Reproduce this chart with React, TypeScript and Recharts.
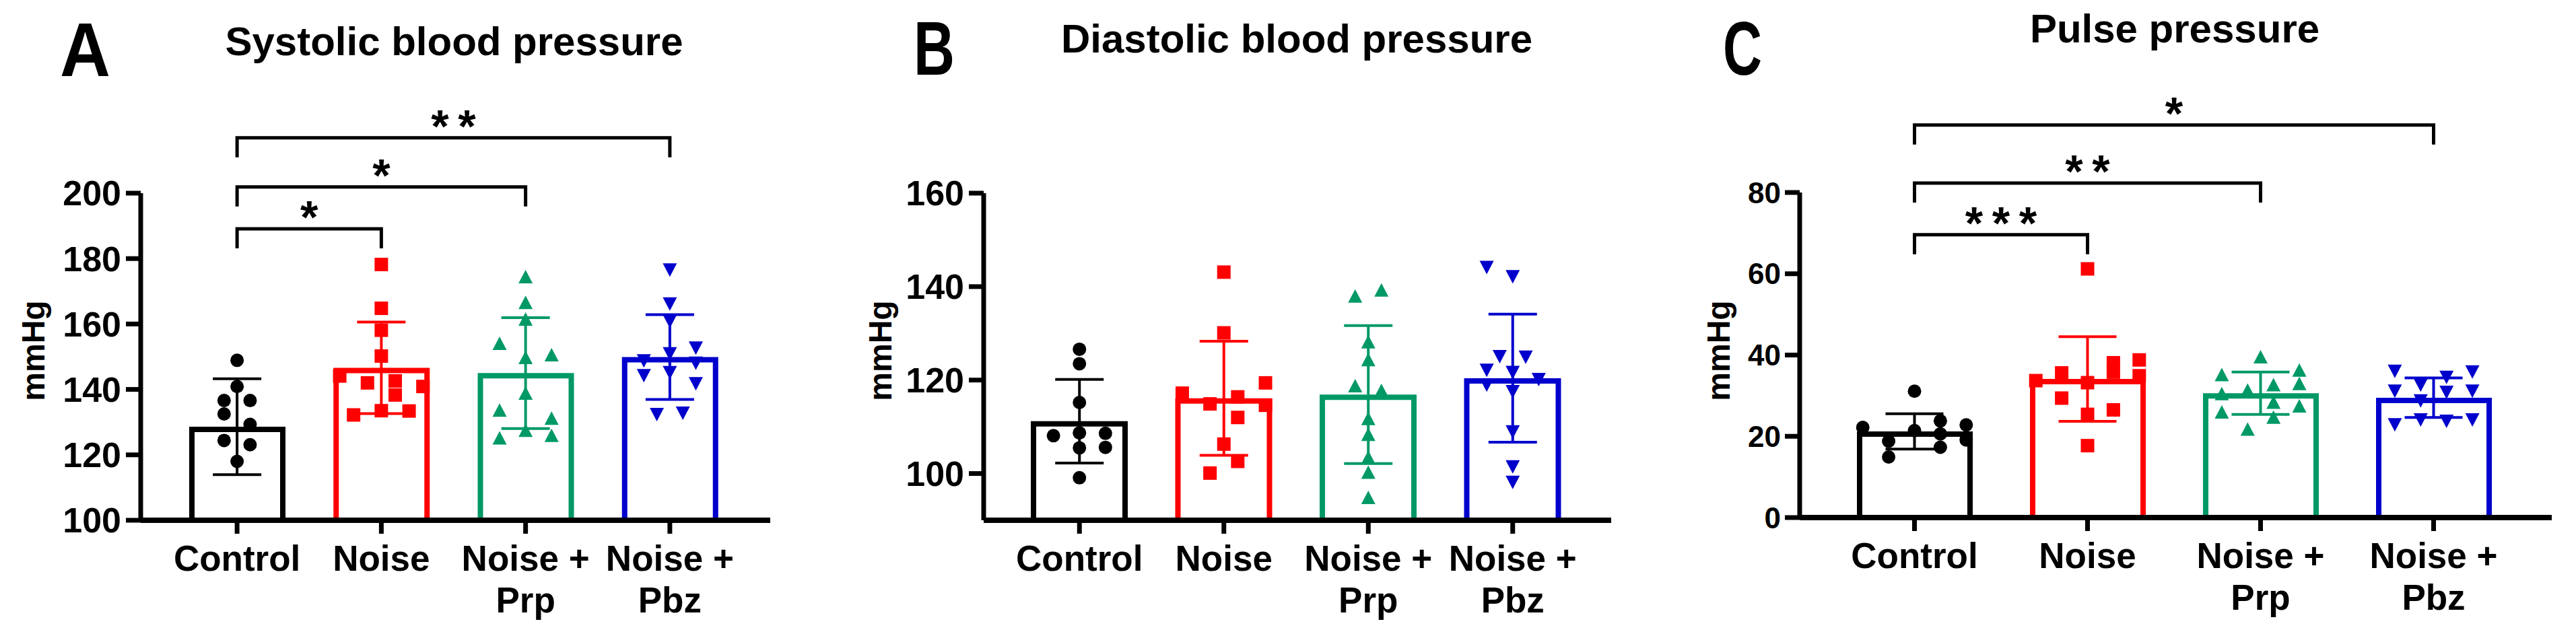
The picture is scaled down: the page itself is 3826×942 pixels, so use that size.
import React from "react";
import {
  ComposedChart,
  Bar,
  Scatter,
  XAxis,
  YAxis,
  ErrorBar,
  ReferenceLine,
} from "recharts";

const FONT = "'Liberation Sans', Arial, sans-serif";

const categories = ["Control", "Noise", "Noise + Prp", "Noise + Pbz"];
const colors = ["#000000", "#ff0000", "#009966", "#0000cc"];

// A - systolic
const sbpControl = [148.9, 140.9, 136.6, 136.6, 132.5, 129.3, 124.4, 123.1, 118.0];
const sbpControlLane = [0, 0, -1, 1, -1, 1, -1, 1, 0];
const sbpNoise = [178.2, 164.8, 158.1, 150.2, 144.1, 142.0, 142.6, 138.3, 140.9, 132.2, 133.5, 133.4];
const sbpNoiseLane = [0, 0, 0, 0, -3, -1, 1, 1, 3, -2, 0, 2];
const sbpPrp = [174.5, 166.6, 161.5, 154.1, 150.6, 149.8, 138.9, 133.7, 131.2, 127.5, 125.2, 126.0];
const sbpPrpLane = [0, 0, 0, -2, 2, 0, 0, -2, 2, 0, -2, 2];
const sbpPbz = [176.5, 166.1, 160.8, 152.6, 150.9, 148.7, 148.0, 144.2, 145.1, 141.7, 132.3, 132.7];
const sbpPbzLane = [0, 0, 0, 2, 0, -2, 2, -2, 0, 2, -1, 1];
const sbpMean = [128.6, 146.6, 145.0, 149.9];
const sbpSd = [14.65, 14.0, 16.95, 12.95];
const sbpTicks = [100, 120, 140, 160, 180, 200];

// B - diastolic
const dbpControl = [126.6, 123.5, 115.2, 108.1, 108.7, 108.6, 105.5, 105.6, 99.1];
const dbpControlLane = [0, 0, 0, -2, 0, 2, 0, 2, 0];
const dbpNoise = [143.1, 130.1, 119.4, 117.2, 116.4, 114.9, 114.6, 112.0, 106.3, 102.6, 100.1];
const dbpNoiseLane = [0, 0, 3, -3, 1, -1, 3, 1, 0, 1, -1];
const dbpPrp = [139.3, 138.0, 128.2, 124.4, 118.8, 117.8, 111.8, 108.4, 103.5, 100.3, 94.9];
const dbpPrpLane = [1, -1, 0, 0, -1, 1, 0, 0, 0, 0, 0];
const dbpPbz = [144.1, 142.1, 125.0, 124.9, 122.1, 121.6, 120.1, 118.9, 117.5, 108.9, 101.4, 98.1];
const dbpPbzLane = [-2, 0, -1, 1, -2, 0, 2, -2, 0, 0, 0, 0];
const dbpMean = [111.2, 116.1, 116.9, 120.4];
const dbpSd = [8.95, 12.2, 14.75, 13.7];
const dbpTicks = [100, 120, 140, 160];

// C - pulse pressure
const ppControl = [31.1, 22.2, 22.8, 23.8, 21.4, 20.6, 18.8, 19.1, 17.3, 14.9];
const ppControlLane = [0, -4, 4, 2, 0, 2, -2, 4, 2, -2];
const ppNoise = [61.2, 38.8, 38.1, 35.8, 34.9, 35.6, 33.7, 33.2, 29.4, 26.5, 25.4, 17.7];
const ppNoiseLane = [0, 4, 2, 2, 4, -2, -4, 0, -2, 2, 0, 0];
const ppPrp = [39.6, 35.2, 36.3, 32.7, 33.0, 31.4, 30.5, 28.4, 27.5, 26.0, 24.7, 21.8];
const ppPrpLane = [0, -3, 3, 1, 3, -1, -3, 1, 3, -3, 1, -1];
const ppPbz = [36.0, 35.8, 34.5, 32.6, 31.1, 30.8, 31.1, 28.7, 22.8, 24.0, 23.7, 24.0];
const ppPbzLane = [-3, 3, 1, -1, -3, 1, 3, -1, -3, -1, 1, 3];
const ppMean = [21.2, 34.1, 30.6, 29.5];
const ppSd = [4.35, 10.4, 5.2, 4.85];
const ppTicks = [0, 20, 40, 60, 80];

type Bracket = { from: string; to: string; y: number; stars: number };

const sbpBrackets: Bracket[] = [
  { from: "Control", to: "Noise", y: 189.1, stars: 1 },
  { from: "Control", to: "Noise + Prp", y: 201.9, stars: 1 },
  { from: "Control", to: "Noise + Pbz", y: 216.9, stars: 2 },
];
const ppBrackets: Bracket[] = [
  { from: "Control", to: "Noise", y: 69.6, stars: 3 },
  { from: "Control", to: "Noise + Prp", y: 82.3, stars: 2 },
  { from: "Control", to: "Noise + Pbz", y: 96.6, stars: 1 },
];

const titles = ["Systolic blood pressure", "Diastolic blood pressure", "Pulse pressure"];
const letters = ["A", "B", "C"];

const H = 942;
const Y_AXIS_W = 200;
const X_AXIS_H = 120;

type Layout = {
  left: number;
  width: number;
  plotLeft: number;
  plotRight: number;
  plotTop: number;
  plotBottom: number;
  padL: number;
  padR: number;
  barSize: number;
  errWidth: number;
  tickFont: number;
  tickMargin: number;
  laneStep: number[];
  letterX: number;
  letterY: number;
  letterW: number;
  titleX: number;
  titleY: number;
  labelX: number;
};

const layouts: Layout[] = [
  {
    left: 0, width: 1260, plotLeft: 209, plotRight: 1144, plotTop: 287, plotBottom: 773,
    padL: 36, padR: 42, barSize: 143, errWidth: 36, tickFont: 52, tickMargin: 7,
    laneStep: [19.3, 20.6, 19.3, 19.3],
    letterX: 126.5, letterY: 112.7, letterW: 75, titleX: 674.5, titleY: 82, labelX: 66,
  },
  {
    left: 1260, width: 1260, plotLeft: 1461, plotRight: 2393, plotTop: 287, plotBottom: 773,
    padL: 35, padR: 39, barSize: 144, errWidth: 36, tickFont: 52, tickMargin: 7,
    laneStep: [19.3, 20.6, 19.5, 19.3],
    letterX: 1387.5, letterY: 111, letterW: 61, titleX: 1926, titleY: 78, labelX: 1324,
  },
  {
    left: 2520, width: 1306, plotLeft: 2673, plotRight: 3790, plotTop: 286, plotBottom: 769,
    padL: 42, padR: 47, barSize: 172, errWidth: 43, tickFont: 44, tickMargin: 6,
    laneStep: [19.2, 19.2, 19.2, 19.2],
    letterX: 2588, letterY: 111, letterW: 58, titleX: 3230, titleY: 63, labelX: 2569,
  },
];

const markers = [
  (p: any) => <circle cx={p.cx} cy={p.cy} r={10} fill={colors[0]} />,
  (p: any) => <rect x={p.cx - 10} y={p.cy - 10} width={20} height={20} fill={colors[1]} />,
  (p: any) => (
    <polygon
      points={`${p.cx},${p.cy - 10} ${p.cx + 10.5},${p.cy + 10} ${p.cx - 10.5},${p.cy + 10}`}
      fill={colors[2]}
    />
  ),
  (p: any) => (
    <polygon
      points={`${p.cx - 10.5},${p.cy - 10} ${p.cx + 10.5},${p.cy - 10} ${p.cx},${p.cy + 10}`}
      fill={colors[3]}
    />
  ),
];

// bar outline drawn inside the bar, open at the bottom (the axis covers it)
const InsetBar = (p: any) => {
  const sw = 8;
  const i = typeof p.index === "number" ? p.index : categories.indexOf(p.payload?.name);
  const x0 = p.x + sw / 2;
  const x1 = p.x + p.width - sw / 2;
  const top = p.y + sw / 2;
  const base = p.y + p.height - 4;
  return (
    <path
      d={`M${x0},${base} L${x0},${top} L${x1},${top} L${x1},${base}`}
      fill="none"
      stroke={colors[i]}
      strokeWidth={sw}
      strokeLinejoin="miter"
    />
  );
};

const makeBracket = (stars: number) => (p: any) => {
  const drop = 29;
  const { x1, x2, y1 } = p;
  const mid = (x1 + x2) / 2;
  return (
    <g>
      <path
        d={`M${x1},${y1 + drop} L${x1},${y1} L${x2},${y1} L${x2},${y1 + drop}`}
        fill="none"
        stroke="#000"
        strokeWidth={5}
      />
      {Array.from({ length: stars }, (_, k) => (
        <text
          key={k}
          x={mid + (k - (stars - 1) / 2) * 40}
          y={y1 + 6}
          textAnchor="middle"
          fontSize={68}
          fontWeight={700}
          fontFamily={FONT}
          fill="#000"
        >
          *
        </text>
      ))}
    </g>
  );
};

const CatTick = (p: any) => {
  const lines = String(p.payload.value).replace(" + ", " +\n").split("\n");
  return (
    <text
      x={p.x}
      y={p.y}
      textAnchor="middle"
      fontSize={53}
      fontWeight={700}
      fontFamily={FONT}
      fill="#000"
    >
      {lines.map((l, i) => (
        <tspan key={i} x={p.x} dy={i === 0 ? 55 : 61.7}>
          {l}
        </tspan>
      ))}
    </text>
  );
};

type PanelProps = {
  layout: Layout;
  domain: [number, number];
  ticks: number[];
  means: number[];
  sds: number[];
  points: number[][];
  lanes: number[][];
  brackets: Bracket[];
};

function Panel({ layout, domain, ticks, means, sds, points, lanes, brackets }: PanelProps) {
  const L = layout;
  const band = (L.plotRight - L.plotLeft - L.padL - L.padR) / 4;
  const barData = categories.map((name, i) => ({ name, mean: means[i] }));
  const pointData = points.map((vals, g) =>
    vals.map((v, k) => ({ x: g + (lanes[g][k] * L.laneStep[g]) / band, y: v }))
  );
  const errData = categories.map((_, i) => [{ x: i, y: means[i], sd: sds[i] }]);
  const pad = { left: L.padL, right: L.padR };

  return (
    <div style={{ position: "absolute", left: L.left, top: 0 }}>
      <ComposedChart
        width={L.width}
        height={H}
        data={barData}
        margin={{
          top: L.plotTop,
          left: L.plotLeft - L.left - Y_AXIS_W,
          right: L.left + L.width - L.plotRight,
          bottom: H - L.plotBottom - X_AXIS_H,
        }}
      >
        <XAxis
          xAxisId="c"
          dataKey="name"
          type="category"
          padding={pad}
          height={X_AXIS_H}
          interval={0}
          tickSize={20}
          tickMargin={0}
          axisLine={{ stroke: "#000", strokeWidth: 8 }}
          tickLine={{ stroke: "#000", strokeWidth: 7 }}
          tick={CatTick}
        />
        <XAxis xAxisId="n" dataKey="x" type="number" domain={[-0.5, 3.5]} padding={pad} hide />
        <YAxis
          type="number"
          domain={domain}
          ticks={ticks}
          interval={0}
          width={Y_AXIS_W}
          tickSize={22}
          tickMargin={L.tickMargin}
          axisLine={{ stroke: "#000", strokeWidth: 7 }}
          tickLine={{ stroke: "#000", strokeWidth: 7 }}
          tick={{ fill: "#000", fontSize: L.tickFont, fontWeight: 700, fontFamily: FONT }}
        />
        {pointData.map((d, g) => (
          <Scatter
            key={`p${g}`}
            xAxisId="n"
            dataKey="y"
            data={d}
            shape={markers[g]}
            isAnimationActive={false}
          />
        ))}
        <Bar
          xAxisId="c"
          dataKey="mean"
          barSize={L.barSize}
          shape={InsetBar}
          isAnimationActive={false}
          zIndex={700}
        />
        {errData.map((d, g) => (
          <Scatter
            key={`e${g}`}
            xAxisId="n"
            dataKey="y"
            data={d}
            shape={() => <g />}
            isAnimationActive={false}
            zIndex={800}
          >
            <ErrorBar
              dataKey="sd"
              direction="y"
              width={L.errWidth}
              stroke={colors[g]}
              strokeWidth={4}
              isAnimationActive={false}
            />
          </Scatter>
        ))}
        {brackets.map((b, i) => (
          <ReferenceLine
            key={`b${i}`}
            xAxisId="c"
            segment={[
              { x: b.from, y: b.y },
              { x: b.to, y: b.y },
            ]}
            ifOverflow="visible"
            shape={makeBracket(b.stars)}
          />
        ))}
      </ComposedChart>
    </div>
  );
}

export default function App() {
  return (
    <div style={{ position: "relative", width: 3826, height: H, background: "#fff" }}>
      <style>{"body{margin:0}"}</style>
      <Panel
        layout={layouts[0]}
        domain={[100, 200]}
        ticks={sbpTicks}
        means={sbpMean}
        sds={sbpSd}
        points={[sbpControl, sbpNoise, sbpPrp, sbpPbz]}
        lanes={[sbpControlLane, sbpNoiseLane, sbpPrpLane, sbpPbzLane]}
        brackets={sbpBrackets}
      />
      <Panel
        layout={layouts[1]}
        domain={[90, 160]}
        ticks={dbpTicks}
        means={dbpMean}
        sds={dbpSd}
        points={[dbpControl, dbpNoise, dbpPrp, dbpPbz]}
        lanes={[dbpControlLane, dbpNoiseLane, dbpPrpLane, dbpPbzLane]}
        brackets={[]}
      />
      <Panel
        layout={layouts[2]}
        domain={[0, 80]}
        ticks={ppTicks}
        means={ppMean}
        sds={ppSd}
        points={[ppControl, ppNoise, ppPrp, ppPbz]}
        lanes={[ppControlLane, ppNoiseLane, ppPrpLane, ppPbzLane]}
        brackets={ppBrackets}
      />
      <svg
        width={3826}
        height={H}
        style={{ position: "absolute", left: 0, top: 0, pointerEvents: "none" }}
      >
        {layouts.map((L, i) => (
          <g key={i} fontFamily={FONT} fontWeight={700} fill="#000">
            <text
              x={L.letterX}
              y={L.letterY}
              textAnchor="middle"
              fontSize={113}
              textLength={L.letterW}
              lengthAdjust="spacingAndGlyphs"
            >
              {letters[i]}
            </text>
            <text x={L.titleX} y={L.titleY} textAnchor="middle" fontSize={60}>
              {titles[i]}
            </text>
            <text
              x={L.labelX}
              y={521}
              textAnchor="middle"
              fontSize={48}
              transform={`rotate(-90 ${L.labelX} 521)`}
            >
              mmHg
            </text>
          </g>
        ))}
      </svg>
    </div>
  );
}
